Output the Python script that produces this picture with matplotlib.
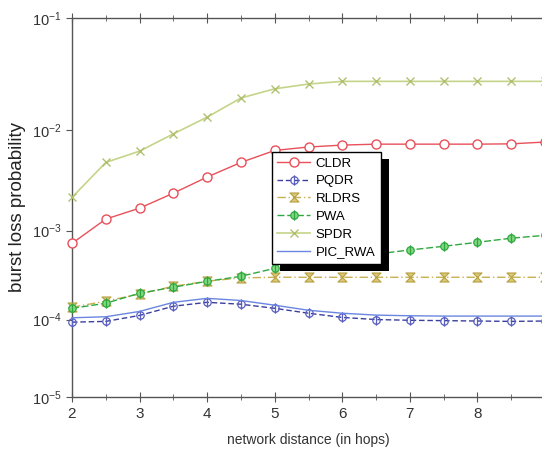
import numpy as np
import matplotlib
matplotlib.use("Agg")
import matplotlib.pyplot as plt
from matplotlib.path import Path
from matplotlib.patches import Rectangle
from matplotlib.ticker import FixedLocator, FuncFormatter, NullLocator, MultipleLocator

plt.rcParams['font.family'] = ['Liberation Sans', 'DejaVu Sans']
plt.rcParams['mathtext.fontset'] = 'custom'
plt.rcParams['mathtext.rm'] = 'Liberation Sans'
plt.rcParams['mathtext.it'] = 'Liberation Sans:italic'

# ---- data ----
hops = [2, 2.5, 3, 3.5, 4, 4.5, 5, 5.5, 6, 6.5, 7, 7.5, 8, 8.5, 9]
cldr = [7.3e-4, 1.32e-3, 1.71e-3, 2.43e-3, 3.52e-3, 4.9e-3, 6.4e-3, 6.9e-3,
        7.2e-3, 7.35e-3, 7.35e-3, 7.35e-3, 7.35e-3, 7.4e-3, 7.7e-3]
pqdr = [9.3e-5, 9.5e-5, 1.12e-4, 1.44e-4, 1.6e-4, 1.52e-4, 1.36e-4, 1.19e-4,
        1.06e-4, 1.0e-4, 9.8e-5, 9.7e-5, 9.6e-5, 9.5e-5, 9.6e-5]
rldrs = [1.4e-4, 1.65e-4, 2.0e-4, 2.45e-4, 2.8e-4, 3.05e-4, 3.1e-4, 3.1e-4,
         3.1e-4, 3.1e-4, 3.1e-4, 3.1e-4, 3.1e-4, 3.1e-4, 3.1e-4]
pwa = [1.36e-4, 1.56e-4, 2.04e-4, 2.39e-4, 2.79e-4, 3.18e-4, 3.9e-4, 4.3e-4,
       4.8e-4, 5.6e-4, 6.2e-4, 6.8e-4, 7.5e-4, 8.3e-4, 8.9e-4]
spdr = [2.2e-3, 4.9e-3, 6.3e-3, 9.2e-3, 1.32e-2, 1.98e-2, 2.4e-2, 2.65e-2,
        2.8e-2, 2.8e-2, 2.8e-2, 2.8e-2, 2.8e-2, 2.8e-2, 2.8e-2]
pic_rwa = [1.05e-4, 1.08e-4, 1.25e-4, 1.6e-4, 1.78e-4, 1.68e-4, 1.48e-4, 1.29e-4,
           1.19e-4, 1.13e-4, 1.11e-4, 1.1e-4, 1.1e-4, 1.1e-4, 1.1e-4]
y_ticks = [1e-5, 1e-4, 1e-3, 1e-2, 1e-1]
x_ticks = [2, 3, 4, 5, 6, 7, 8]

# ---- scale (the original log axis is stretched unevenly) ----
A, B = 117.7, 5.76


def fwd(y):
    y = np.asarray(y, dtype=float)
    L = np.log10(np.clip(y, 1e-10, None))
    t = -L - 1.0
    return -(A * t - B * t * t)


def inv(v):
    p = -np.asarray(v, dtype=float)
    disc = np.clip(A * A - 4 * B * p, 0, None)
    t = (A - np.sqrt(disc)) / (2 * B)
    return 10 ** (-(t + 1.0))


fig = plt.figure(figsize=(5.42, 4.5), dpi=100)
ax = fig.add_axes([72 / 542, 53 / 450, 473 / 542, 379 / 450])
ax.set_yscale('function', functions=(fwd, inv))

bar_circle = Path.make_compound_path(
    Path.unit_circle(),
    Path([(0, -1.4), (0, 1.4)], [Path.MOVETO, Path.LINETO]))
bowtie = Path([(-1, -1), (1, -1), (-1, 1), (1, 1), (-1, -1)],
              [Path.MOVETO, Path.LINETO, Path.LINETO, Path.LINETO, Path.CLOSEPOLY])

ax.plot(hops, cldr, color='#e8505a', lw=1.0, marker='o', ms=6.5,
        mfc='white', mec='#e8505a', mew=1.0, label='CLDR', clip_on=False, zorder=3)
ax.plot(hops, pqdr, color='#3a3f9e', lw=1.0, ls=(0, (4, 2)), marker=bar_circle, ms=7.5,
        mfc='none', mec='#5a60c0', mew=0.9, label='PQDR', clip_on=False, zorder=3)
ax.plot(hops, rldrs, color='#c8b050', lw=1.0, ls=(0, (6, 2, 1, 2)), marker=bowtie, ms=6.5,
        mfc='#d8c878', mec='#b8a040', mew=0.8, label='RLDRS', clip_on=False, zorder=3)
ax.plot(hops, pwa, color='#30a840', lw=1.0, ls=(0, (5, 2)), marker=bar_circle, ms=7.5,
        mfc='#80d880', mec='#30a840', mew=0.9, label='PWA', clip_on=False, zorder=3)
ax.plot(hops, spdr, color='#c4d488', lw=1.2, marker='x', ms=6,
        mec='#b0c070', mew=1.0, label='SPDR', clip_on=False, zorder=3)
ax.plot(hops, pic_rwa, color='#6a86e0', lw=1.0, label='PIC_RWA', clip_on=False, zorder=3)

ax.set_xlim(2, 9)
ax.set_ylim(1e-5, 1e-1)
ax.xaxis.set_major_locator(FixedLocator(x_ticks))
ax.xaxis.set_minor_locator(MultipleLocator(0.5))
ax.yaxis.set_major_locator(FixedLocator(y_ticks))
ax.yaxis.set_minor_locator(NullLocator())
ax.yaxis.set_major_formatter(FuncFormatter(lambda v, pos: r'$10^{%d}$' % round(np.log10(v))))

for s in ax.spines.values():
    s.set_color('#555555')
    s.set_linewidth(1.0)
ax.tick_params(axis='x', which='both', direction='inout', top=True, colors='#555555',
               labelcolor='#333333', labelsize=11)
ax.tick_params(axis='x', which='major', length=7)
ax.tick_params(axis='x', which='minor', length=5)
ax.tick_params(axis='y', which='major', direction='out', length=4, colors='#555555',
               labelcolor='#333333', labelsize=10.5)

ax.set_xlabel('network distance (in hops)', fontsize=10, color='#333333', labelpad=9)
ax.set_ylabel('burst loss probability', fontsize=13.5, color='#222222', labelpad=4)

leg = ax.legend(loc='upper left', bbox_to_anchor=((272 - 72) / 473, (397 - 152) / 379),
                fontsize=9.5, frameon=True, fancybox=False, edgecolor='black',
                framealpha=1, handlelength=2.5, labelspacing=0.42, borderpad=0.4,
                handletextpad=0.4, borderaxespad=0)
leg.get_frame().set_linewidth(1.0)
leg.set_zorder(6)

fig.canvas.draw()
bb = leg.get_window_extent()
shadow = Rectangle((bb.x0 + 8, bb.y0 - 7), bb.width, bb.height, transform=None,
                   facecolor='black', edgecolor='none', zorder=5.5)
ax.add_artist(shadow)

fig.savefig('out.png', dpi=100)
